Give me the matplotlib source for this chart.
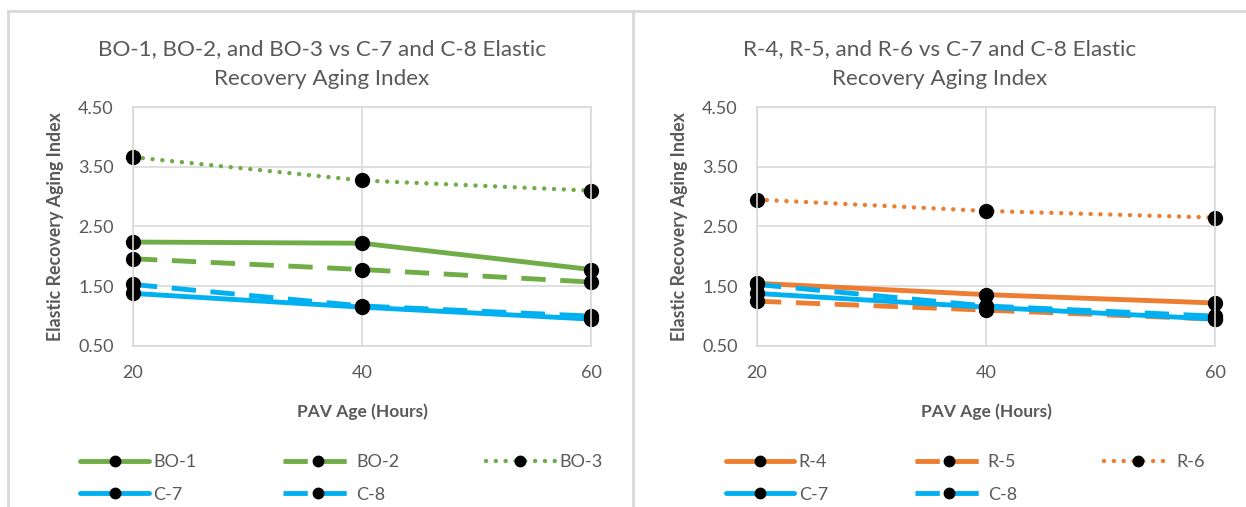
import matplotlib.pyplot as plt
from matplotlib.lines import Line2D

plt.rcParams['font.family'] = ['Lato', 'DejaVu Sans']

hours = [20, 40, 60]

# left chart series
bo1 = [2.24, 2.22, 1.78]
bo2 = [1.96, 1.78, 1.57]
bo3 = [3.66, 3.27, 3.10]
# right chart series
r4 = [1.55, 1.36, 1.22]
r5 = [1.25, 1.10, 0.95]
r6 = [2.95, 2.76, 2.65]
# controls in both charts
c7 = [1.38, 1.15, 0.95]
c8 = [1.53, 1.17, 1.00]

y_ticks = [0.5, 1.5, 2.5, 3.5, 4.5]
titles = ["BO-1, BO-2, and BO-3 vs C-7 and C-8 Elastic\nRecovery Aging Index",
          "R-4, R-5, and R-6 vs C-7 and C-8 Elastic\nRecovery Aging Index"]

GREEN = '#70AD47'
ORANGE = '#ED7D31'
BLUE = '#00B0F0'
TXT = '#595959'
GRID = '#D9D9D9'

fig = plt.figure(figsize=(12.46, 5.07), dpi=100)

# chart area borders
for x in [8 / 1246, 633 / 1246]:
    fig.add_artist(Line2D([x, x], [0, 1 - 11 / 507], color=GRID, lw=2, transform=fig.transFigure))
fig.add_artist(Line2D([8 / 1246, 1], [1 - 11 / 507, 1 - 11 / 507], color=GRID, lw=2, transform=fig.transFigure))

panels = [
    (133, [("BO-1", bo1, GREEN, 'solid'), ("BO-2", bo2, GREEN, 'dash'), ("BO-3", bo3, GREEN, 'dot'),
           ("C-7", c7, BLUE, 'solid'), ("C-8", c8, BLUE, 'dash')], titles[0], 322),
    (757, [("R-4", r4, ORANGE, 'solid'), ("R-5", r5, ORANGE, 'dash'), ("R-6", r6, ORANGE, 'dot'),
           ("C-7", c7, BLUE, 'solid'), ("C-8", c8, BLUE, 'dash')], titles[1], 940),
]

for left_px, series, title, title_x in panels:
    ax = fig.add_axes([left_px / 1246, 1 - 346 / 507, 458 / 1246, 239 / 507])
    handles = []
    for name, vals, col, style in series:
        kw = dict(color=col, marker='o', markersize=10, markerfacecolor='black',
                  markeredgecolor='black', label=name, clip_on=False)
        if style == 'solid':
            h, = ax.plot(hours, vals, lw=3.5, solid_capstyle='round', **kw)
        elif style == 'dash':
            h, = ax.plot(hours, vals, lw=3.5, dashes=(5, 3), **kw)
        else:
            h, = ax.plot(hours, vals, lw=3.2, dashes=(0.01, 2.2), dash_capstyle='round', **kw)
        handles.append(h)

    ax.set_xlim(20, 60)
    ax.set_ylim(0.5, 4.5)
    ax.set_xticks(hours)
    ax.set_yticks(y_ticks)
    ax.set_yticklabels([f"{v:.2f}" for v in y_ticks])
    ax.grid(True, color=GRID, lw=1.2)
    ax.set_axisbelow(True)
    for s in ax.spines.values():
        s.set_color(GRID)
        s.set_linewidth(1.2)
    ax.tick_params(length=0, labelsize=13, colors=TXT)
    ax.tick_params(axis='x', pad=14)
    ax.tick_params(axis='y', pad=14)
    ax.set_xlabel("PAV Age (Hours)", fontsize=12.5, fontweight='bold', color=TXT, labelpad=16)
    ax.set_ylabel("Elastic Recovery Aging Index", fontsize=12.8, fontweight='bold', color=TXT, labelpad=10)

    fig.text(title_x / 1246, 1 - 64 / 507, title, ha='center', va='center',
             fontsize=16.2, color=TXT, linespacing=1.65)

    # legend filled row by row like the original
    order = [0, 3, 1, 4, 2]
    leg = ax.legend(handles=[handles[i] for i in order], ncol=3, loc='upper center',
                    bbox_to_anchor=(0.455, -0.385), frameon=False, fontsize=13,
                    handlelength=3.8, handletextpad=0.25, columnspacing=4.8,
                    numpoints=1, markerscale=0.75, labelspacing=0.9)
    for t in leg.get_texts():
        t.set_color(TXT)

fig.savefig('out.png', dpi=100)
